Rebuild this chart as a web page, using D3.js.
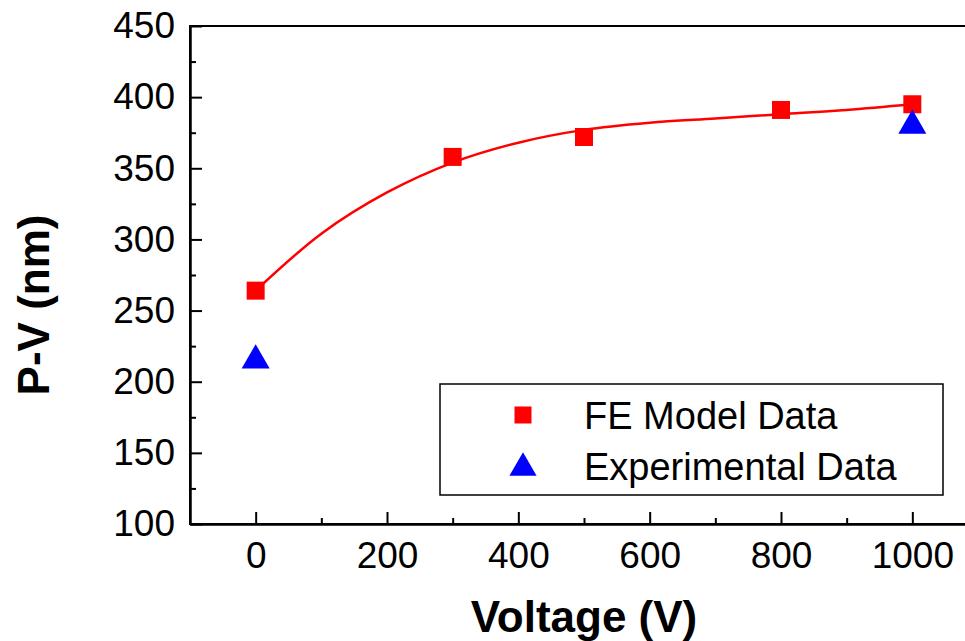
<!DOCTYPE html>
<html>
<head>
<meta charset="utf-8">
<script src="https://cdn.jsdelivr.net/npm/d3@7"></script>
<style>
  html, body { margin: 0; padding: 0; background: #fff; }
  svg { display: block; font-family: 'Liberation Sans', Arial, sans-serif; }
  .axis path, .axis line { stroke: #000; stroke-width: 2; }
  .axis text { font-size: 37px; fill: #000; font-family: 'Liberation Sans', Arial, sans-serif; }
</style>
</head>
<body>
<div id="chart"></div>
<script>
// data
const voltage = [0, 300, 500, 800, 1000];
const feModel = [264, 358, 372, 391, 395];

const expVoltage = [0, 1000];
const experimental = [215, 380];

// fitted curve drawn through the model points
const fitVoltage = [0, 100, 200, 300, 400, 500, 600, 700, 800, 900, 1000];
const fitValues = [264, 304, 333, 354, 368, 377, 382, 385, 388, 391, 395];

const xTicks = [0, 200, 400, 600, 800, 1000];
const xMinor = [100, 300, 500, 700, 900];
const yTicks = [100, 150, 200, 250, 300, 350, 400, 450];
const yMinor = [125, 175, 225, 275, 325, 375, 425];

const seriesNames = ['FE Model Data', 'Experimental Data'];

const W = 965;
const H = 641;
const margin = { top: 26, left: 190, bottom: 117, right: -13 };
const innerW = W - margin.left - margin.right;
const innerH = H - margin.top - margin.bottom;

const svg = d3.select('#chart')
  .append('svg')
  .attr('width', W)
  .attr('height', H);

const x = d3.scaleLinear().domain([-100, 1100]).range([0, innerW]);
const y = d3.scaleLinear().domain([100, 450]).range([innerH, 0]);

const g = svg.append('g')
  .attr('transform', `translate(${margin.left},${margin.top})`);

// frame (right side runs past the window edge)
g.append('rect')
  .attr('x', 0)
  .attr('y', 0)
  .attr('width', innerW)
  .attr('height', innerH)
  .attr('fill', 'none')
  .attr('stroke', '#000')
  .attr('stroke-width', 2);

// x axis
g.append('g')
  .attr('class', 'axis')
  .attr('transform', `translate(0,${innerH})`)
  .call(d3.axisBottom(x).tickValues(xTicks).tickFormat(d3.format('d'))
    .tickSizeInner(-12).tickSizeOuter(0).tickPadding(18));

g.append('g')
  .attr('class', 'axis')
  .attr('transform', `translate(0,${innerH})`)
  .call(d3.axisBottom(x).tickValues(xMinor).tickSizeInner(-6).tickSizeOuter(0).tickFormat(''));

// y axis
g.append('g')
  .attr('class', 'axis')
  .call(d3.axisLeft(y).tickValues(yTicks).tickSizeInner(-12).tickSizeOuter(0).tickPadding(15));

g.append('g')
  .attr('class', 'axis')
  .call(d3.axisLeft(y).tickValues(yMinor).tickSizeInner(-6).tickSizeOuter(0).tickFormat(''));

// fitted line
const line = d3.line()
  .curve(d3.curveCatmullRom)
  .x((d, i) => x(fitVoltage[i]))
  .y((d) => y(d));

g.append('path')
  .datum(fitValues)
  .attr('fill', 'none')
  .attr('stroke', '#ff0000')
  .attr('stroke-width', 2.5)
  .attr('d', line);

// model squares
const square = d3.symbol().type(d3.symbolSquare).size(324);
g.selectAll('.fe')
  .data(feModel)
  .enter()
  .append('path')
  .attr('class', 'fe')
  .attr('d', square)
  .attr('transform', (d, i) => `translate(${x(voltage[i])},${y(d)})`)
  .attr('fill', '#ff0000');

// experimental triangles
const tri = d3.symbol().type(d3.symbolTriangle).size(340);
g.selectAll('.exp')
  .data(experimental)
  .enter()
  .append('path')
  .attr('class', 'exp')
  .attr('d', tri)
  .attr('transform', (d, i) => `translate(${x(expVoltage[i])},${y(d)})`)
  .attr('fill', '#0000ff');

// legend
const legend = svg.append('g')
  .attr('transform', 'translate(440,384)');

legend.append('rect')
  .attr('width', 503)
  .attr('height', 111)
  .attr('fill', '#fff')
  .attr('stroke', '#000')
  .attr('stroke-width', 1.5);

const symbols = [
  d3.symbol().type(d3.symbolSquare).size(289),
  d3.symbol().type(d3.symbolTriangle).size(320),
];
const colors = ['#ff0000', '#0000ff'];

const item = legend.selectAll('.item')
  .data(seriesNames)
  .enter()
  .append('g')
  .attr('class', 'item')
  .attr('transform', (d, i) => `translate(0,${31 + i * 51})`);

item.append('path')
  .attr('d', (d, i) => symbols[i]())
  .attr('transform', (d, i) => `translate(83,${i === 1 ? 2 : 0})`)
  .attr('fill', (d, i) => colors[i]);

item.append('text')
  .attr('x', 144)
  .attr('y', 14)
  .attr('font-size', 38)
  .attr('fill', '#000')
  .text((d) => d);

// axis titles
svg.append('text')
  .attr('x', margin.left + x(500))
  .attr('y', 632)
  .attr('text-anchor', 'middle')
  .attr('font-size', 44)
  .attr('font-weight', 'bold')
  .text('Voltage (V)');

svg.append('text')
  .attr('transform', 'translate(49,305) rotate(-90)')
  .attr('text-anchor', 'middle')
  .attr('font-size', 44)
  .attr('font-weight', 'bold')
  .text('P-V (nm)');
</script>
</body>
</html>
